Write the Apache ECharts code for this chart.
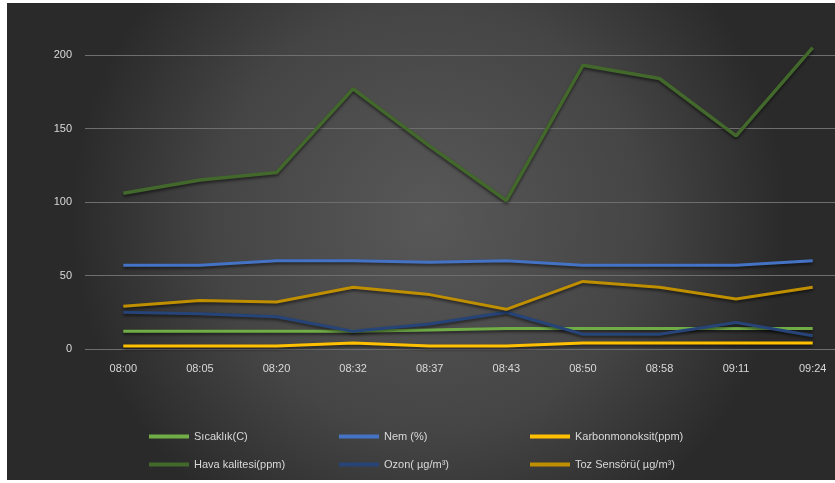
<!DOCTYPE html>
<html>
<head>
<meta charset="utf-8">
<script src="https://cdn.jsdelivr.net/npm/echarts@6/dist/echarts.min.js"></script>
<style>
  html, body { margin: 0; padding: 0; background: #ffffff; overflow: hidden; width: 835px; height: 483px; position: relative; }
  #chart { position: absolute; left: 7px; top: 3px; width: 844px; height: 477px; }
</style>
</head>
<body>
<div id="chart"></div>
<script>
// Measurement times (x axis)
const times = ['08:00', '08:05', '08:20', '08:32', '08:37', '08:43', '08:50', '08:58', '09:11', '09:24'];

// Sensor readings per time
const sicaklik       = [12, 12, 12, 12, 13, 14, 14, 14, 14, 14];
const nem            = [57, 57, 60, 60, 59, 60, 57, 57, 57, 60];
const karbonmonoksit = [2, 2, 2, 4, 2, 2, 4, 4, 4, 4];
const havaKalitesi   = [106, 115, 120, 177, 138, 101, 193, 184, 145, 205];
const ozon           = [25, 24, 22, 12, 17, 25, 10, 10, 18, 9];
const tozSensoru     = [29, 33, 32, 42, 37, 27, 46, 42, 34, 42];

// Y axis ticks
const yTicks = [0, 50, 100, 150, 200];

const names = ['Sıcaklık(C)', 'Nem (%)', 'Karbonmonoksit(ppm)', 'Hava kalitesi(ppm)', 'Ozon( µg/m³)', 'Toz Sensörü( µg/m³)'];
const colors = ['#70ad47', '#4472c4', '#ffc000', '#43682b', '#264478', '#bf8f00'];
const values = [sicaklik, nem, karbonmonoksit, havaKalitesi, ozon, tozSensoru];

const font = 'Liberation Sans, Arial, sans-serif';
const chart = echarts.init(document.getElementById('chart'));

const series = names.map((n, i) => ({
  name: n,
  type: 'line',
  data: values[i],
  symbol: 'none',
  clip: false,
  color: colors[i],
  lineStyle: {
    width: i === 3 ? 3.5 : 3,
    color: colors[i],
    shadowColor: 'rgba(0,0,0,0.55)',
    shadowBlur: 3,
    shadowOffsetY: 2
  }
}));

// Legend: two rows of three, one legend per entry so the columns line up
const legendLeft = [142, 332, 523];
const legendTop = [428, 456];
const legends = names.map((n, i) => ({
  data: [n],
  left: legendLeft[i % 3],
  top: legendTop[Math.floor(i / 3)],
  itemWidth: 40,
  itemHeight: 4,
  icon: 'rect',
  padding: 0,
  textStyle: { color: '#d9d9d9', fontSize: 11, fontFamily: font }
}));

chart.setOption({
  backgroundColor: {
    type: 'radial', x: 0.5, y: 0.45, r: 0.75,
    colorStops: [
      { offset: 0, color: '#585858' },
      { offset: 0.6, color: '#454545' },
      { offset: 1, color: '#2a2a2a' }
    ]
  },
  animation: false,
  grid: { left: 78, right: 0, top: 52, bottom: 131 },
  legend: legends,
  xAxis: {
    type: 'category',
    data: times,
    boundaryGap: true,
    axisLine: { show: false },
    axisTick: { show: false },
    axisLabel: { color: '#d9d9d9', fontSize: 11, margin: 14, interval: 0, fontFamily: font }
  },
  yAxis: {
    type: 'value',
    min: yTicks[0],
    max: yTicks[yTicks.length - 1],
    interval: 50,
    axisLine: { show: false },
    axisTick: { show: false },
    axisLabel: { color: '#d9d9d9', fontSize: 11, margin: 13, fontFamily: font },
    splitLine: { lineStyle: { color: '#6e6e6e', width: 1 } }
  },
  series: series
});
</script>
</body>
</html>
